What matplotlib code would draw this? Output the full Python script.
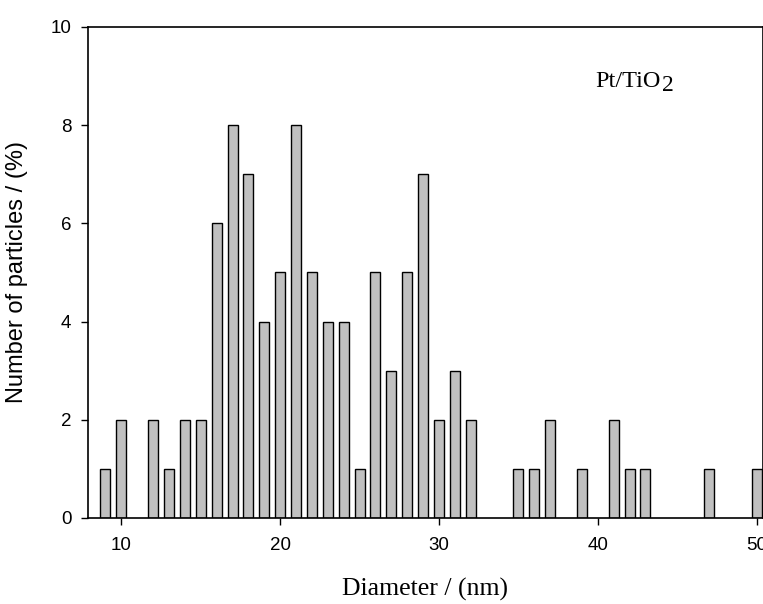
import matplotlib
matplotlib.use("Agg")
import matplotlib.pyplot as plt

# particle size histogram, Pt/TiO2
diameters = [9, 10, 12, 13, 14, 15, 16, 17, 18, 19, 20, 21, 22, 23, 24, 25,
             26, 27, 28, 29, 30, 31, 32, 35, 36, 37, 39, 41, 42, 43, 47, 50]
percent = [1, 2, 2, 1, 2, 2, 6, 8, 7, 4, 5, 8, 5, 4, 4, 1,
           5, 3, 5, 7, 2, 3, 2, 1, 1, 2, 1, 2, 1, 1, 1, 1]
xticks = [10, 20, 30, 40, 50]
yticks = [0, 2, 4, 6, 8, 10]

fig = plt.figure(figsize=(7.63, 6.04), dpi=100)
ax = fig.add_axes([0.1153, 0.1424, 0.8847, 0.8129])

ax.bar(diameters, percent, width=0.63, color="#c0c0c0", edgecolor="black",
       linewidth=1.0)

ax.set_xlim(7.9, 50.4)
ax.set_ylim(0, 10)
ax.set_xticks(xticks)
ax.set_yticks(yticks)
ax.tick_params(direction="out", length=5, width=1, labelsize=13.5)
ax.tick_params(axis="y", pad=7)
ax.tick_params(axis="x", pad=9)
for lab in ax.get_xticklabels() + ax.get_yticklabels():
    lab.set_family("Liberation Sans")
for s in ax.spines.values():
    s.set_linewidth(1.2)

ax.set_xlabel("Diameter / (nm)", family="Liberation Serif", fontsize=18.5,
              labelpad=17)
ax.set_ylabel("Number of particles / (%)", family="Liberation Sans",
              fontsize=17, labelpad=16)

# label with a big, dropped subscript
t = ax.text(0.752, 0.89, "Pt/TiO", transform=ax.transAxes,
            family="Liberation Serif", fontsize=17.5, va="center", ha="left")
ax.annotate("2", xy=(1, 0.5), xycoords=t, xytext=(0.5, -3.5),
            textcoords="offset points", family="Liberation Serif",
            fontsize=17, va="center", ha="left")

fig.savefig("out.png", dpi=100)
